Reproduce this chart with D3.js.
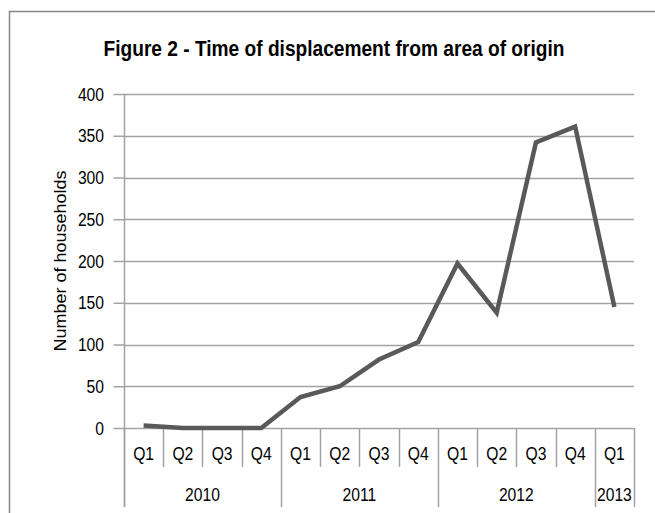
<!DOCTYPE html>
<html><head><meta charset="utf-8">
<script src="https://cdn.jsdelivr.net/npm/d3@7"></script>
<style>
body{margin:0;background:#fff;}
svg text{font-family:"Liberation Sans",Arial,sans-serif;fill:#000;}
</style></head><body>
<svg id="c" width="655" height="513"></svg>
<script>
const years = ["2010","2011","2012","2013"];
const quarters = ["Q1","Q2","Q3","Q4","Q1","Q2","Q3","Q4","Q1","Q2","Q3","Q4","Q1"];
const yearOfQuarter = ["2010","2010","2010","2010","2011","2011","2011","2011","2012","2012","2012","2012","2013"];
const households = [3,0,0,0,37,50,82,103,197,138,342,361,145];
const yTicks = [0,50,100,150,200,250,300,350,400];
const title = "Figure 2 - Time of displacement from area of origin";
const yTitle = "Number of  households";

const SX = 0.87; // horizontal squeeze of the lettering
const svg = d3.select("#c");
const L=124, R=634, T=94, B=428;
const idx = d3.range(quarters.length);
const x = d3.scaleBand().domain(idx).range([L,R]).paddingInner(0).paddingOuter(0);
const y = d3.scaleLinear().domain([0,400]).range([B,T]);
const GRID = "#a3a3a3";

function sq(sel, px, py){ return sel.attr("transform", `translate(${px},${py}) scale(${SX},1)`); }

// outer border
svg.append("rect").attr("x",9.5).attr("y",11.5).attr("width",660).attr("height",520)
  .attr("fill","none").attr("stroke","#868686").attr("stroke-width",1.5);

// title
sq(svg.append("text"),334,56).attr("text-anchor","middle")
  .style("font-size","22px").style("font-weight","bold").text(title);

// gridlines
svg.append("g").selectAll("line").data(yTicks.filter(d=>d>0)).join("line")
  .attr("x1",L).attr("x2",R).attr("y1",d=>Math.round(y(d))+0.5).attr("y2",d=>Math.round(y(d))+0.5)
  .attr("stroke",GRID).attr("stroke-width",1.5);

// y axis
const ya = d3.axisLeft(y).tickValues(yTicks).tickSize(11).tickPadding(0).tickFormat(()=>"");
const yg = svg.append("g").attr("transform",`translate(${L+0.5},0)`).call(ya);
yg.select(".domain").attr("stroke",GRID).attr("stroke-width",1.5).attr("d",`M0,${T}V507`);
yg.selectAll(".tick line").attr("stroke",GRID).attr("stroke-width",1.5);
// tick labels placed through the same scale
svg.append("g").selectAll("text").data(yTicks).join("text")
  .attr("transform",d=>`translate(104,${y(d)+6.5}) scale(${SX},1)`)
  .attr("text-anchor","end").style("font-size","18px").text(d=>d);

// y title
svg.append("text").attr("transform",`translate(65.5,${(T+B)/2}) scale(${SX},1) rotate(-90)`).attr("text-anchor","middle")
  .style("font-size","18px").text(yTitle);

// x axis baseline
svg.append("line").attr("x1",L).attr("x2",R).attr("y1",B+0.5).attr("y2",B+0.5)
  .attr("stroke",GRID).attr("stroke-width",1.5);

// quarter separators
const g2 = svg.append("g");
idx.forEach(i=>{
  const xl = x(i);
  const isYear = i===0 || yearOfQuarter[i]!==yearOfQuarter[i-1];
  g2.append("line").attr("x1",Math.round(xl)+0.5).attr("x2",Math.round(xl)+0.5)
    .attr("y1",B).attr("y2",isYear?507:467).attr("stroke",GRID).attr("stroke-width",1.5);
});
g2.append("line").attr("x1",R+0.5).attr("x2",R+0.5).attr("y1",B).attr("y2",507)
  .attr("stroke",GRID).attr("stroke-width",1.5);

// quarter labels
svg.append("g").selectAll("text").data(idx).join("text")
  .attr("transform",i=>`translate(${x(i)+x.bandwidth()/2},460) scale(${SX},1)`)
  .attr("text-anchor","middle").style("font-size","18px").text(i=>quarters[i]);

// year labels
svg.append("g").selectAll("text").data(years).join("text")
  .attr("transform",yr=>{const ii=idx.filter(i=>yearOfQuarter[i]===yr);
     const cx=(x(ii[0])+x(ii[ii.length-1])+x.bandwidth())/2; return `translate(${cx},501) scale(${SX},1)`;})
  .attr("text-anchor","middle").style("font-size","18px").text(d=>d);

// line
const line = d3.line().x((d,i)=>x(i)+x.bandwidth()/2).y(d=>y(d));
svg.append("path").datum(households).attr("d",line).attr("fill","none")
  .attr("stroke","#595959").attr("stroke-width",4.5).attr("stroke-linejoin","miter");
</script></body></html>
